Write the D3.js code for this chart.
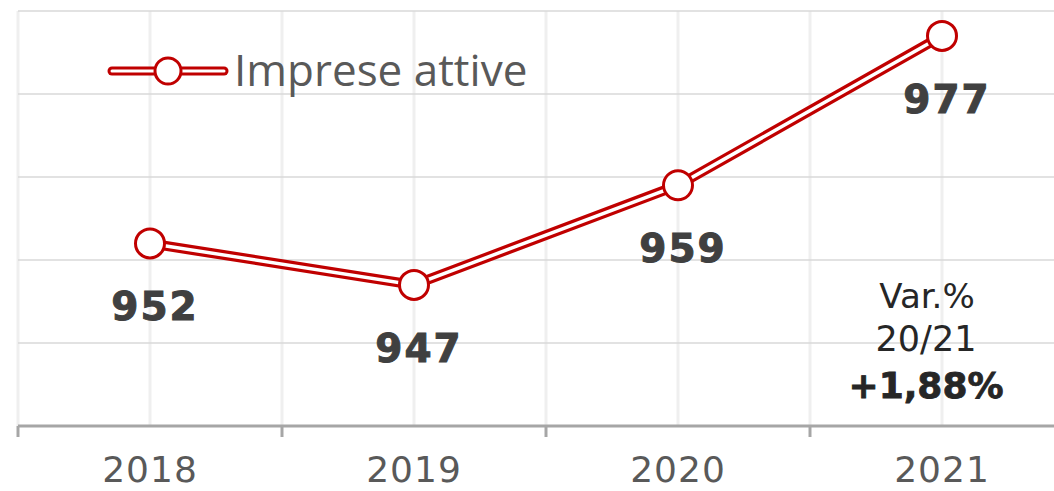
<!DOCTYPE html>
<meta charset="utf-8">
<style>
    body { margin: 0; background: #fff; }
    svg { display: block; }
</style>
<svg id="chart" width="1054" height="491"></svg>
<script src="https://cdn.jsdelivr.net/npm/d3@7/dist/d3.min.js"></script>
<script>
    // data
    var years = ["2018", "2019", "2020", "2021"];
    var impreseAttive = [952, 947, 959, 977];
    var yTicks = [930, 940, 950, 960, 970, 980];
    var legendLabel = "Imprese attive";
    var varLines = ["Var.%", "20/21", "+1,88%"];

    var red = "#c00000";
    var svg = d3.select("#chart");

    // band 264px wide, chart runs off the right edge like the original
    var x = d3.scaleBand().domain(years).range([18, 18 + 4 * 264]).padding(0);
    var y = d3.scaleLinear().domain([930, 980]).range([426, 11]);
    var cx = d => x(d) + x.bandwidth() / 2;

    var data = years.map((d, i) => ({year: d, value: impreseAttive[i]}));

    // vertical gridlines: band edges + centers
    var vLines = [];
    years.forEach(d => { vLines.push(x(d)); vLines.push(cx(d)); });
    svg.append("g").selectAll("line")
        .data(vLines)
        .enter().append("line")
        .attr("x1", d => d).attr("x2", d => d)
        .attr("y1", y(980)).attr("y2", y(930))
        .style("stroke", "#efefef")
        .style("stroke-width", 3);

    // horizontal gridlines
    svg.append("g").selectAll("line")
        .data(yTicks.slice(1))
        .enter().append("line")
        .attr("x1", 18).attr("x2", 1054)
        .attr("y1", d => y(d)).attr("y2", d => y(d))
        .style("stroke", "#d9d9d9")
        .style("stroke-width", 1.5);

    // x axis: line + ticks at band edges, labels at centers
    var axis = svg.append("g").attr("transform", "translate(0," + y(930) + ")");
    axis.append("line")
        .attr("x1", 18).attr("x2", 1054)
        .style("stroke", "#a6a6a6").style("stroke-width", 3);
    axis.selectAll("line.tick")
        .data(years)
        .enter().append("line")
        .attr("class", "tick")
        .attr("x1", d => x(d)).attr("x2", d => x(d))
        .attr("y1", 0).attr("y2", 11)
        .style("stroke", "#a6a6a6").style("stroke-width", 3);
    axis.selectAll("text")
        .data(years)
        .enter().append("text")
        .attr("x", d => cx(d))
        .attr("y", 56)
        .attr("text-anchor", "middle")
        .style("font-family", "DejaVu Sans")
        .style("font-size", "36px")
        .style("letter-spacing", "1px")
        .style("fill", "#595959")
        .text(d => d);

    // double line: thick red with a thin white core
    var line = d3.line().x(d => cx(d.year)).y(d => y(d.value));
    svg.append("path").datum(data)
        .attr("d", line)
        .style("fill", "none").style("stroke", red).style("stroke-width", 10);
    svg.append("path").datum(data)
        .attr("d", line)
        .style("fill", "none").style("stroke", "#fff").style("stroke-width", 3.5);

    svg.append("g").selectAll("circle")
        .data(data)
        .enter().append("circle")
        .attr("cx", d => cx(d.year))
        .attr("cy", d => y(d.value))
        .attr("r", 14.5)
        .style("fill", "#fff")
        .style("stroke", red)
        .style("stroke-width", 3);

    // value labels under the points
    svg.append("g").selectAll("text")
        .data(data)
        .enter().append("text")
        .attr("x", d => cx(d.year) + 5)
        .attr("y", d => y(d.value) + 77)
        .attr("text-anchor", "middle")
        .style("font-family", "DejaVu Sans")
        .style("font-weight", "bold")
        .style("font-size", "39px")
        .style("letter-spacing", "2px")
        .style("stroke", "#404040")
        .style("stroke-width", 1)
        .style("fill", "#404040")
        .text(d => d.value);

    // legend
    var lg = svg.append("g");
    lg.append("line").attr("x1", 112).attr("x2", 224).attr("y1", 71).attr("y2", 71)
        .style("stroke", red).style("stroke-width", 9).style("stroke-linecap", "round");
    lg.append("line").attr("x1", 112).attr("x2", 224).attr("y1", 71).attr("y2", 71)
        .style("stroke", "#fff").style("stroke-width", 3).style("stroke-linecap", "round");
    lg.append("circle").attr("cx", 168).attr("cy", 71).attr("r", 13)
        .style("fill", "#fff").style("stroke", red).style("stroke-width", 3);
    lg.append("text").attr("x", 234).attr("y", 86)
        .style("font-family", "Open Sans")
        .style("font-size", "44px")
        .style("fill", "#595959")
        .text(legendLabel);

    // variation note
    var note = svg.append("g").attr("text-anchor", "middle");
    note.append("text").attr("x", 927).attr("y", 308)
        .style("font-family", "DejaVu Sans").style("font-size", "34px").style("fill", "#262626")
        .text(varLines[0]);
    note.append("text").attr("x", 926).attr("y", 351)
        .style("font-family", "DejaVu Sans").style("font-size", "35px").style("fill", "#262626")
        .text(varLines[1]);
    note.append("text").attr("x", 926).attr("y", 398)
        .style("font-family", "DejaVu Sans").style("font-weight", "bold")
        .style("font-size", "36px").style("fill", "#262626")
        .style("stroke", "#262626").style("stroke-width", 0.8)
        .text(varLines[2]);
</script>
